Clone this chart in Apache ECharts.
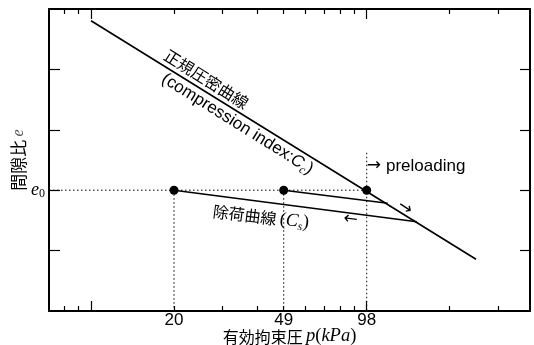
<!DOCTYPE html>
<html><head><meta charset="utf-8">
<script src="https://cdn.jsdelivr.net/npm/echarts@6/dist/echarts.min.js"></script>
<style>html,body{margin:0;padding:0;background:#fff}#c{width:534px;height:345px}</style>
</head><body><div id="c"></div>
<script>
// ---- data (p in kPa, e = void ratio in relative units) ----
const pMin = 6.90, pMax = 383.3;
const minorTickP = [7.84, 8.82, 19.6, 29.4, 39.2, 49, 58.8, 68.6, 78.4, 88.2, 196, 294];
const majorTickP = [9.8, 98];
const tickLabelP = [19.6, 49, 98];
const tickLabelText = ['20', '49', '98'];
const eMin = 0, eMax = 5, e0 = 2;
const yTickValues = [1, 2, 3, 4];
const nclP = [9.8, 244.2];
const nclE = [4.806, 0.856];
const unloadAP = [49, 116.8];
const unloadAE = [2.0, 1.783];
const unloadBP = [19.6, 148.8];
const unloadBE = [2.0, 1.478];
const pointP = [19.6, 49, 98];
const pointE = [2, 2, 2];
const guideTop98 = 2.62;

const L = v => Math.log10(v);
const SANS = "'Liberation Sans', Arial, sans-serif";
const SERIF = "'Liberation Serif', 'Times New Roman', serif";
const CJK = "'Noto Sans CJK JP', sans-serif";
const ARROW = "'DejaVu Sans', sans-serif";

function xa(pos, ticks, len, showLine, labels) {
  return {
    type: 'value', position: pos, min: L(pMin), max: L(pMax),
    axisLine: {show: showLine, onZero: false, lineStyle: {color: '#000', width: 2}},
    axisTick: {show: true, inside: true, length: len, customValues: ticks.map(L), lineStyle: {color: '#000', width: 1.2}},
    axisLabel: labels ? {
      show: true, customValues: labels.map(L), margin: 1, color: '#000', fontSize: 17, fontFamily: SANS,
      formatter: v => { const i = labels.findIndex(p => Math.abs(L(p) - v) < 1e-6); return i >= 0 ? tickLabelText[i] : ''; }
    } : {show: false},
    splitLine: {show: false}
  };
}
function pts(ps, es) { return ps.map((p, i) => [L(p), es[i]]); }
const lineStyle = {color: '#000', width: 1.6};
const dotStyle = {color: '#000', width: 1, type: [1.5, 2.5]};
function lineSeries(data, ls) {
  return {type: 'line', data, symbol: 'none', lineStyle: ls, silent: true, animation: false, z: 3};
}

const rich = {
  cjk: {fontFamily: CJK, fontSize: 16, color: '#000'},
  lat: {fontFamily: SANS, fontSize: 17, color: '#000'},
  ci: {fontFamily: SANS, fontSize: 17, fontStyle: 'italic', color: '#000'},
  sub: {fontFamily: SERIF, fontSize: 12, fontStyle: 'italic', color: '#000', padding: [10, 0, 0, 0]},
  mi: {fontFamily: SERIF, fontSize: 18.5, fontStyle: 'italic', color: '#000'},
  mr: {fontFamily: SERIF, fontSize: 18.5, color: '#000'},
  arr: {fontFamily: ARROW, fontSize: 17, color: '#000'},
  sp: {fontFamily: SANS, fontSize: 17, width: 5}
};
function ann(p, e, text, rotate, align) {
  return {value: [L(p), e], label: {show: true, formatter: text, rotate: rotate || 0, position: 'inside',
    align: align || 'center', verticalAlign: 'middle', color: '#000', textBorderWidth: 0, opacity: 1, rich}};
}

const chart = echarts.init(document.getElementById('c'), null, {renderer: 'canvas'});
chart.setOption({
  animation: false,
  backgroundColor: '#fff',
  grid: {left: 49, right: 4, top: 9, bottom: 34, containLabel: false, outerBoundsMode: 'none'},
  xAxis: [
    Object.assign(xa('bottom', minorTickP, 5, true, tickLabelP), {
      name: '{cjk|有効拘束圧} {mi|p}{mr|(}{mi|kPa}{mr|)}', nameLocation: 'middle', nameGap: 16, nameMoveOverlap: false,
      nameTextStyle: {verticalAlign: 'top', rich}
    }),
    xa('top', minorTickP, 5, true, null),
    xa('bottom', majorTickP, 10, false, null),
    xa('top', majorTickP, 10, false, null)
  ],
  yAxis: [
    {type: 'value', position: 'left', min: eMin, max: eMax,
     axisLine: {show: true, lineStyle: {color: '#000', width: 2}},
     axisTick: {show: true, inside: true, length: 11, customValues: yTickValues, lineStyle: {color: '#000', width: 1.2}},
     axisLabel: {show: true, customValues: [e0], margin: 4, formatter: () => '{e|e}{z|0}',
       rich: {e: {fontFamily: SERIF, fontStyle: 'italic', fontSize: 18, color: '#000'},
              z: {fontFamily: SERIF, fontSize: 12, color: '#000', padding: [8, 0, 0, 0]}}},
     splitLine: {show: false},
     name: '{cjk|間隙比} {mi|e}', nameLocation: 'middle', nameRotate: 90, nameGap: 22, nameMoveOverlap: false,
     nameTextStyle: {rich: {cjk: {fontFamily: CJK, fontSize: 17, color: '#000'},
                            mi: {fontFamily: SERIF, fontStyle: 'italic', fontSize: 16, color: '#555'}}}},
    {type: 'value', position: 'right', min: eMin, max: eMax,
     axisLine: {show: true, lineStyle: {color: '#000', width: 2}},
     axisTick: {show: true, inside: true, length: 10, customValues: yTickValues, lineStyle: {color: '#000', width: 1.2}},
     axisLabel: {show: false}, splitLine: {show: false}}
  ],
  series: [
    lineSeries([[L(pMin), e0], [L(98), e0]], dotStyle),
    lineSeries([[L(pointP[0]), e0], [L(pointP[0]), eMin]], dotStyle),
    lineSeries([[L(pointP[1]), e0], [L(pointP[1]), eMin]], dotStyle),
    lineSeries([[L(pointP[2]), guideTop98], [L(pointP[2]), eMin]], dotStyle),
    lineSeries(pts(nclP, nclE), lineStyle),
    lineSeries(pts(unloadAP, unloadAE), lineStyle),
    lineSeries(pts(unloadBP, unloadBE), lineStyle),
    {type: 'scatter', data: pts(pointP, pointE), symbol: 'circle', symbolSize: 9,
     itemStyle: {color: '#000', opacity: 1}, z: 5, silent: true},
    {type: 'scatter', symbolSize: 0, silent: true, z: 6, itemStyle: {opacity: 1},
     data: [
       ann(25.7, 3.84, '{cjk|正規圧密曲線}', -32),
       ann(33.3, 3.096, '{lat|(compression index:}{ci|C}{sub|c}{lat|)}', -32),
       ann(98, 2.40, '{arr|→}{sp| }{lat|preloading}', 0, 'left'),
       ann(40.5, 1.556, '{cjk|除荷曲線} {mr|(}{mi|C}{sub|s}{mr|)}', -7),
       ann(134.9, 1.705, '{arr|→}', -33),
       ann(85.6, 1.515, '{arr|←}', -7)
     ]}
  ]
});
</script></body></html>
